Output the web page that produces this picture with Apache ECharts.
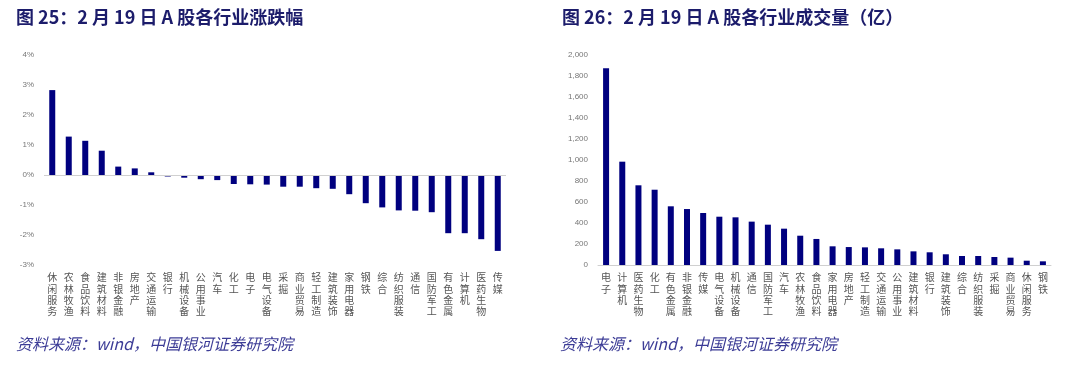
<!DOCTYPE html>
<html><head><meta charset="utf-8">
<script src="https://cdn.jsdelivr.net/npm/echarts@6/dist/echarts.min.js"></script>
<style>html,body{margin:0;padding:0;background:#fff}#c{width:1080px;height:366px}</style>
</head><body><div id="c"></div>
<script>
const changeCategories = ['休闲服务','农林牧渔','食品饮料','建筑材料','非银金融','房地产','交通运输','银行','机械设备','公用事业','汽车','化工','电子','电气设备','采掘','商业贸易','轻工制造','建筑装饰','家用电器','钢铁','综合','纺织服装','通信','国防军工','有色金属','计算机','医药生物','传媒'];
const changeValues = [2.83,1.28,1.14,0.81,0.28,0.22,0.09,-0.05,-0.09,-0.14,-0.17,-0.30,-0.31,-0.32,-0.39,-0.39,-0.44,-0.46,-0.64,-0.94,-1.08,-1.18,-1.19,-1.24,-1.94,-1.94,-2.14,-2.53];
const volumeCategories = ['电子','计算机','医药生物','化工','有色金属','非银金融','传媒','电气设备','机械设备','通信','国防军工','汽车','农林牧渔','食品饮料','家用电器','房地产','轻工制造','交通运输','公用事业','建筑材料','银行','建筑装饰','综合','纺织服装','采掘','商业贸易','休闲服务','钢铁'];
const volumeValues = [1873,984,759,717,559,533,495,460,454,413,384,346,279,248,178,171,168,159,149,130,121,102,86,86,76,70,41,35];
const titleLeft = '图 25：2 月 19 日 A 股各行业涨跌幅';
const titleRight = '图 26：2 月 19 日 A 股各行业成交量（亿）';
const sourceText = '资料来源：wind，中国银河证券研究院';

const barColor = '#00007f';
const catLabel = {
  interval: 0, fontSize: 10, lineHeight: 11.3, color: '#555', margin: 7,
  fontFamily: 'Noto Sans CJK SC',
  formatter: v => v.split('').join('\n')
};
const yLabel = {fontSize: 8, color: '#777', fontFamily: 'Liberation Sans', margin: 10};
const fmtThousands = v => String(v).replace(/\B(?=(\d{3})+(?!\d))/g, ',');

const chart = echarts.init(document.getElementById('c'), null, {renderer: 'canvas'});
chart.setOption({
  animation: false,
  graphic: [
    {type: 'text', left: 16, top: 8, style: {text: titleLeft, fontSize: 18, fontWeight: 'bold', fill: '#1c1c6b', fontFamily: 'Noto Sans CJK SC'}},
    {type: 'text', left: 562, top: 8, style: {text: titleRight, fontSize: 18, fontWeight: 'bold', fill: '#1c1c6b', fontFamily: 'Noto Sans CJK SC'}},
    {type: 'text', left: 16, top: 336, style: {text: sourceText, fontSize: 16, fontStyle: 'italic', fill: '#3c3c96', fontFamily: 'Noto Sans CJK SC'}},
    {type: 'text', left: 560, top: 336, style: {text: sourceText, fontSize: 16, fontStyle: 'italic', fill: '#3c3c96', fontFamily: 'Noto Sans CJK SC'}}
  ],
  grid: [
    {left: 44, right: 574, top: 55, bottom: 101},
    {left: 598, right: 29, top: 55, bottom: 101}
  ],
  xAxis: [
    {type: 'category', gridIndex: 0, data: changeCategories, axisLine: {show: false, onZero: false}, axisTick: {show: false}, axisLabel: catLabel},
    {type: 'category', gridIndex: 1, data: volumeCategories, axisLine: {show: true, lineStyle: {color: '#d0d0d0'}}, axisTick: {show: false}, axisLabel: catLabel}
  ],
  yAxis: [
    {type: 'value', gridIndex: 0, min: -3, max: 4, interval: 1, splitLine: {show: false}, axisLine: {show: false}, axisTick: {show: false}, axisLabel: Object.assign({}, yLabel, {formatter: '{value}%'})},
    {type: 'value', gridIndex: 1, min: 0, max: 2000, interval: 200, splitLine: {show: false}, axisLine: {show: false}, axisTick: {show: false}, axisLabel: Object.assign({}, yLabel, {formatter: fmtThousands})}
  ],
  series: [
    {type: 'bar', xAxisIndex: 0, yAxisIndex: 0, data: changeValues, barWidth: 6, itemStyle: {color: barColor},
     markLine: {silent: true, symbol: 'none', label: {show: false}, lineStyle: {color: '#d0d0d0', type: 'solid', width: 1}, data: [{yAxis: 0}]}},
    {type: 'bar', xAxisIndex: 1, yAxisIndex: 1, data: volumeValues, barWidth: 6, itemStyle: {color: barColor}}
  ]
});
</script>
</body></html>
